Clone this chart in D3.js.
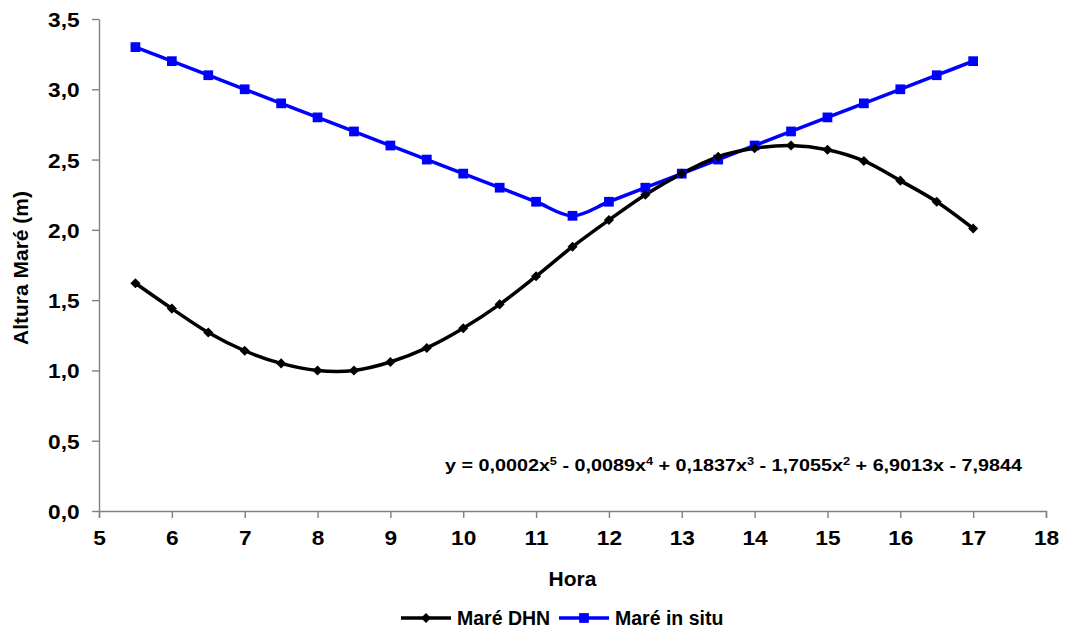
<!DOCTYPE html>
<html>
<head>
<meta charset="utf-8">
<script src="https://cdn.jsdelivr.net/npm/d3@7"></script>
<style>
  body { margin: 0; background: #fff; }
  svg { display: block; font-family: "Liberation Sans", Arial, sans-serif; font-weight: bold; }
  .axis path, .axis line { stroke: #808080; stroke-width: 1.4px; }
  .axis text { fill: #000; font-size: 21px; font-weight: bold; }
</style>
</head>
<body>
<svg class="chart"></svg>
<script>
// horas da medição
const horas = [5.5, 6, 6.5, 7, 7.5, 8, 8.5, 9, 9.5, 10, 10.5, 11, 11.5, 12,
               12.5, 13, 13.5, 14, 14.5, 15, 15.5, 16, 16.5, 17];

// Maré DHN (m)
const mareDHN = [1.62, 1.44, 1.27, 1.14, 1.05, 1.00, 1.00, 1.06, 1.16, 1.30, 1.47, 1.67,
                 1.88, 2.07, 2.25, 2.40, 2.52, 2.58, 2.60, 2.57, 2.49, 2.35, 2.20, 2.01];

// Maré in situ (m)
const mareInSitu = [3.3, 3.2, 3.1, 3.0, 2.9, 2.8, 2.7, 2.6, 2.5, 2.4, 2.3, 2.2,
                    2.1, 2.2, 2.3, 2.4, 2.5, 2.6, 2.7, 2.8, 2.9, 3.0, 3.1, 3.2];

const xTicks = [5, 6, 7, 8, 9, 10, 11, 12, 13, 14, 15, 16, 17, 18];
const yTicks = [0, 0.5, 1, 1.5, 2, 2.5, 3, 3.5];

// equação: pedaços [texto, expoente]
const equacao = [["y = 0,0002x", "5"], [" - 0,0089x", "4"], [" + 0,1837x", "3"],
                 [" - 1,7055x", "2"], [" + 6,9013x - 7,9844", ""]];

const size = {width: 1065, height: 630};
const margin = {left: 99, right: 19, top: 19, bottom: 119};
const w = size.width - margin.left - margin.right;
const h = size.height - margin.top - margin.bottom;

const svg = d3.select(".chart")
    .attr("width", size.width)
    .attr("height", size.height);

const x = d3.scaleLinear().domain([5, 18]).range([0, w]);
const y = d3.scaleLinear().domain([0, 3.5]).range([h, 0]);

const paper = svg.append("g")
    .attr("transform", `translate(${margin.left},${margin.top})`);

// eixos
const fmt = d3.format(".1f");
paper.append("g")
    .attr("class", "axis")
    .attr("transform", `translate(0,${h})`)
    .call(d3.axisBottom(x).tickValues(xTicks).tickSize(7).tickSizeOuter(7).tickPadding(12))
    .call(g => g.selectAll("text").attr("transform", "scale(1.08,1)"));

paper.append("g")
    .attr("class", "axis")
    .call(d3.axisLeft(y).tickValues(yTicks).tickSize(7).tickSizeOuter(0).tickPadding(11)
        .tickFormat(d => fmt(d).replace(".", ",")))
    .call(g => g.selectAll("text").attr("transform", "scale(1.08,1)").attr("dy", "0.36em"));

// curvas
const line = d3.line()
    .x((d, i) => x(horas[i]))
    .y(d => y(d))
    .curve(d3.curveCatmullRom.alpha(0));

paper.append("path")
    .datum(mareInSitu)
    .attr("fill", "none")
    .attr("stroke", "#0000ff")
    .attr("stroke-width", 3.5)
    .attr("d", line);

paper.append("path")
    .datum(mareDHN)
    .attr("fill", "none")
    .attr("stroke", "#000")
    .attr("stroke-width", 3.5)
    .attr("d", line);

const square = d3.symbol().type(d3.symbolSquare).size(95);
const diamond = d3.symbol().type(d3.symbolDiamond2).size(65);

paper.selectAll(".pt-situ")
    .data(mareInSitu)
    .join("path")
    .attr("class", "pt-situ")
    .attr("transform", (d, i) => `translate(${x(horas[i])},${y(d)})`)
    .attr("d", square)
    .attr("fill", "#0000ff");

paper.selectAll(".pt-dhn")
    .data(mareDHN)
    .join("path")
    .attr("class", "pt-dhn")
    .attr("transform", (d, i) => `translate(${x(horas[i])},${y(d)})`)
    .attr("d", diamond)
    .attr("fill", "#000");

// equação da linha de tendência
const eq = paper.append("text")
    .attr("x", 346)
    .attr("y", 452)
    .attr("font-size", 17)
    .attr("textLength", 577)
    .attr("lengthAdjust", "spacingAndGlyphs");
equacao.forEach(([t, e]) => {
    eq.append("tspan").text(t);
    if (e) eq.append("tspan").attr("font-size", 11).attr("baseline-shift", "super").text(e);
});

// títulos
svg.append("text")
    .attr("x", margin.left + w / 2)
    .attr("y", 586)
    .attr("text-anchor", "middle")
    .attr("font-size", 21)
    .text("Hora");

svg.append("text")
    .attr("transform", "translate(28,268) rotate(-90)")
    .attr("text-anchor", "middle")
    .attr("font-size", 21)
    .text("Altura Maré (m)");

// legenda
const legend = svg.append("g").attr("transform", "translate(401,618)");
const items = [
    {name: "Maré DHN", color: "#000", sym: diamond, x0: 0},
    {name: "Maré in situ", color: "#0000ff", sym: square, x0: 158}
];
items.forEach(it => {
    const g = legend.append("g").attr("transform", `translate(${it.x0},0)`);
    g.append("line").attr("x1", 0).attr("x2", 50).attr("stroke", it.color).attr("stroke-width", 3.5);
    g.append("path").attr("transform", "translate(25,0)").attr("d", it.sym).attr("fill", it.color);
    g.append("text").attr("x", 56).attr("dy", "0.35em").attr("font-size", 19.5).text(it.name);
});
</script>
</body>
</html>
